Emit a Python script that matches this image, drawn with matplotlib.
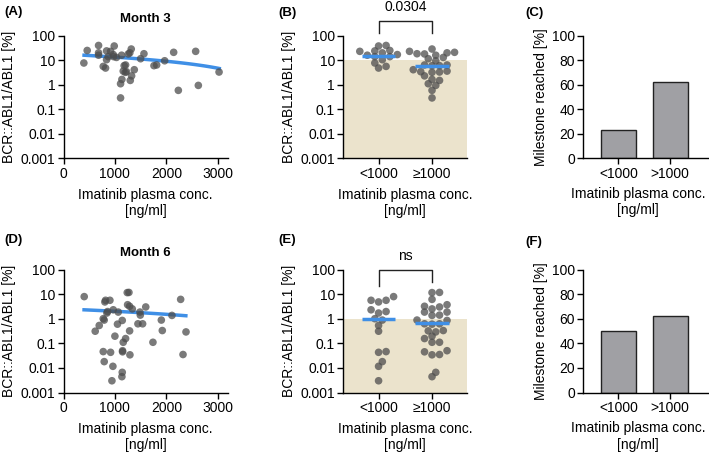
import numpy as np
import matplotlib.pyplot as plt

# Month 3: imatinib plasma conc. [ng/ml] vs BCR::ABL1/ABL1 [%]
m3_conc = [396, 461, 682, 682, 682, 773, 818, 838, 838, 870, 916, 987, 968, 974,
           1130, 1110, 1110, 1136, 1162, 1208, 1201, 1260, 1318, 1299, 1325, 1377,
           1500, 1565, 1760, 1812, 1968, 2143, 2234, 2571, 2623, 3026,
           1030, 1225, 1290, 1180]
m3_bcr = [7.7, 25, 40, 20, 16, 5.6, 4.8, 24, 10.5, 14, 23, 38, 17, 14,
          16, 1.1, 0.29, 1.65, 3.6, 6.4, 3.2, 18, 28.6, 1.5, 2.3, 4.1,
          11.5, 18.4, 6.0, 6.4, 9.5, 21, 0.59, 23, 0.94, 3.3,
          13, 3.4, 20, 6.0]
m3_fit_x = [400, 3030]
m3_fit_y = [16, 4.6]

# Month 6
m6_conc = [403, 617, 695, 773, 792, 805, 818, 844, 857, 903, 968, 773, 916, 792, 961, 942,
           1000, 1065, 1143, 1162, 1208, 1149, 1149, 1143, 1136, 1240, 1273, 1247, 1286,
           1338, 1286, 1292, 1448, 1487, 1494, 1539, 1740, 1903, 1922, 2110, 2279, 2325, 2383,
           1050, 1600]
m6_bcr = [7.9, 0.31, 0.53, 1.0, 0.88, 4.8, 5.6, 1.7, 1.95, 5.6, 2.3, 0.046, 0.043, 0.018, 0.0116, 0.003,
          0.195, 1.86, 0.85, 0.11, 0.156, 0.05, 0.045, 0.0066, 0.0044, 11.5, 11.7, 3.7, 3.2,
          2.5, 0.32, 0.034, 0.62, 1.86, 1.4, 0.62, 0.11, 0.88, 0.33, 1.36, 6.1, 0.035, 0.29,
          0.6, 3.0]
m6_fit_x = [400, 2380]
m6_fit_y = [2.3, 1.32]

group_labels = ['<1000', '\u22651000']
bar_labels = ['<1000', '>1000']
m3_medians = [15, 6.0]
m6_medians = [1.0, 0.66]
m3_milestone = [22.7, 62.5]
m6_milestone = [50, 62.5]
m3_target = 10
m6_target = 1
m3_p = '0.0304'
m6_p = 'ns'

plt.rcParams['font.family'] = ['Liberation Sans', 'DejaVu Sans']
plt.rcParams['font.size'] = 10
plt.rcParams['xtick.labelsize'] = 10
plt.rcParams['ytick.labelsize'] = 10
plt.rcParams['axes.linewidth'] = 1.0
plt.rcParams['xtick.major.width'] = 1.0
plt.rcParams['ytick.major.width'] = 1.0
plt.rcParams['xtick.major.size'] = 4
plt.rcParams['ytick.major.size'] = 4

DOT = '#4d4d4d'
BLUE = '#3f8fe6'
SHADE = '#ebe3cc'
BAR = '#a0a0a4'
XLAB = 'Imatinib plasma conc.\n[ng/ml]'

fig = plt.figure(figsize=(7.09, 4.55), dpi=100)

W = 709
H = 455


def ax_px(x0, x1, ytop, ybot):
    return fig.add_axes([x0 / W, (H - ybot) / H, (x1 - x0) / W, (ybot - ytop) / H])


def style(ax):
    ax.spines['top'].set_visible(False)
    ax.spines['right'].set_visible(False)
    ax.tick_params(direction='out', pad=2)


def log_axis(ax):
    ax.set_yscale('log')
    ax.set_ylim(0.001, 100)
    ax.set_yticks([0.001, 0.01, 0.1, 1, 10, 100])
    ax.set_yticklabels(['0.001', '0.01', '0.1', '1', '10', '100'])
    ax.minorticks_off()
    ax.set_ylabel('BCR::ABL1/ABL1 [%]', labelpad=3)


def swarm(vals, center, px_per_unit, px_per_dec, diam=7.5):
    # compact beeswarm layout in pixel space (points may overlap a little)
    vals = np.asarray(vals, float)
    order = np.argsort(vals)
    placed = []
    xs = np.zeros(len(vals))
    mind = diam * 0.72
    step = diam * 0.5
    for i in order:
        yp = np.log10(vals[i]) * px_per_dec
        best = 0.0
        for k in range(0, 40):
            found = False
            for sgn in ([0] if k == 0 else [1, -1]):
                xo = sgn * k * step
                if all((xo - px) ** 2 + (yp - py) ** 2 >= mind ** 2 for px, py in placed):
                    best = xo
                    found = True
                    break
            if found:
                break
        placed.append((best, yp))
        xs[i] = center + best / px_per_unit
    return xs


def scatter_panel(ax, conc, bcr, fx, fy, title):
    style(ax)
    ax.scatter(conc, bcr, s=30, color=DOT, alpha=0.75, edgecolors='none', zorder=3)
    xx = np.linspace(fx[0], fx[1], 60)
    yy = np.interp(xx, fx, fy)
    ax.plot(xx, yy, color=BLUE, lw=2.5, zorder=2)
    log_axis(ax)
    ax.set_xlim(0, 3200)
    ax.set_xticks([0, 1000, 2000, 3000])
    ax.set_xlabel(XLAB, labelpad=5)
    ax.set_title(title, fontweight='bold', fontsize=9.5, pad=10)


def group_panel(ax, conc, bcr, medians, target, ptxt, bracket_y, leg_y):
    style(ax)
    log_axis(ax)
    ax.set_xlim(-0.66, 1.66)
    ax.axhspan(0.001, target, color=SHADE, zorder=0, lw=0)
    conc = np.asarray(conc)
    bcr = np.asarray(bcr)
    groups = [bcr[conc < 1000], bcr[conc >= 1000]]
    for g, vals in enumerate(groups):
        xs = swarm(vals, g, 53.4, 24.5)
        ax.scatter(xs, vals, s=30, color=DOT, alpha=0.75, edgecolors='none', zorder=3)
        ax.plot([g - 0.31, g + 0.31], [medians[g], medians[g]], color=BLUE, lw=2.5, zorder=4,
                solid_capstyle='butt')
    ax.set_xticks([0, 1])
    ax.set_xticklabels(group_labels)
    ax.set_xlabel(XLAB, labelpad=5)
    ax.plot([0, 0, 1, 1], [leg_y[0], bracket_y, bracket_y, leg_y[1]], color='#222222', lw=1.0,
            clip_on=False)
    ax.annotate(ptxt, (0.5, bracket_y), xytext=(0, 5), textcoords='offset points',
                ha='center', va='bottom', fontsize=10, annotation_clip=False)


def bar_panel(ax, vals):
    style(ax)
    ax.bar([0, 1], vals, width=0.67, color=BAR, edgecolor='#222222', lw=1.0)
    ax.set_xlim(-0.68, 1.73)
    ax.set_ylim(0, 100)
    ax.set_yticks([0, 20, 40, 60, 80, 100])
    ax.set_xticks([0, 1])
    ax.set_xticklabels(bar_labels)
    ax.set_ylabel('Milestone reached [%]', labelpad=3)
    ax.set_xlabel(XLAB, labelpad=5)
    # keep the label inside the figure's right edge, as in the original
    ax.xaxis.set_label_coords(0.44, -0.235)
    ax.xaxis.label.set_va('top')


axA = ax_px(63.5, 228, 35.7, 158.3)
axB = ax_px(343.3, 467.3, 35.7, 158.3)
axC = ax_px(583.3, 708, 35.7, 158.3)
axD = ax_px(63.5, 228, 269.5, 392.5)
axE = ax_px(343.3, 467.3, 269.5, 392.5)
axF = ax_px(583.3, 708, 269.5, 392.5)

scatter_panel(axA, m3_conc, m3_bcr, m3_fit_x, m3_fit_y, 'Month 3')
scatter_panel(axD, m6_conc, m6_bcr, m6_fit_x, m6_fit_y, 'Month 6')
group_panel(axB, m3_conc, m3_bcr, m3_medians, m3_target, m3_p, 400, (130, 130))
group_panel(axE, m6_conc, m6_bcr, m6_medians, m6_target, m6_p, 100, (22, 30))
bar_panel(axC, m3_milestone)
bar_panel(axF, m6_milestone)

for lab, x, y in [('(A)', 4, 12), ('(B)', 278, 13), ('(C)', 525, 13),
                  ('(D)', 4, 240), ('(E)', 278, 240), ('(F)', 525, 242)]:
    fig.text(x / W, 1 - y / H, lab, fontweight='bold', fontsize=9.5, va='center', ha='left')

fig.savefig('out.png', dpi=100)
